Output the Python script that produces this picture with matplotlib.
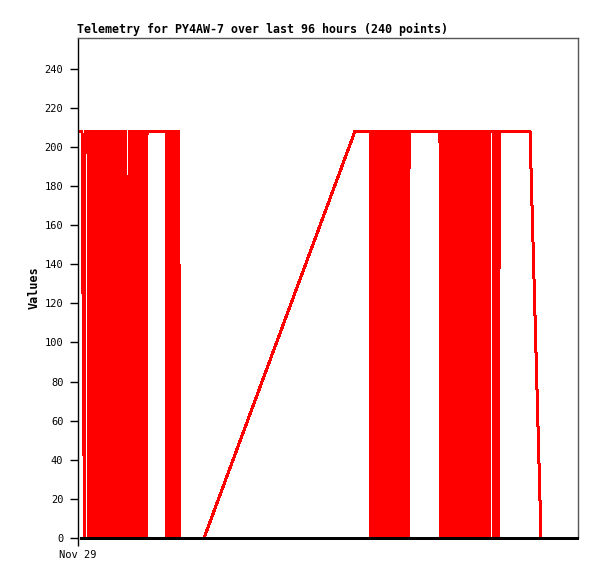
import matplotlib
matplotlib.use("Agg")
import matplotlib.pyplot as plt

# time in minutes since start of window (Nov 29 00:00), values of the telemetry channel
lead_t = [23, 46, 75, 81]
lead_v = [208, 208, 0, 208]

a1_t = [115, 124, 133, 142, 151, 160, 169, 178, 187, 196, 205, 214, 223, 232, 241, 250, 259,
        268, 277, 286, 295, 304, 313, 322, 331, 340, 349, 358, 367, 376, 385, 394, 403]
a1_v = [208, 0, 208, 0, 208, 0, 208, 0, 208, 0, 208, 0, 208, 0, 208, 0, 208,
        0, 208, 0, 208, 0, 208, 0, 208, 0, 208, 0, 208, 0, 208, 0, 208]

a2_t = [426, 435, 444, 453, 462, 471, 480, 489, 498, 507, 516, 525, 534, 543, 552, 561]
a2_v = [208, 0, 208, 0, 208, 0, 208, 0, 208, 0, 208, 0, 208, 0, 208, 0]

a3_t = [588, 597, 606, 615, 624, 633, 642, 651, 660, 669, 678, 687, 696, 705, 714, 723,
        732, 741, 750, 759, 768, 777, 786, 795]
a3_v = [0, 208, 0, 208, 0, 208, 0, 208, 0, 208, 0, 208, 0, 208, 0, 208,
        0, 208, 0, 208, 0, 208, 0, 208]

a4_t = [1014, 1023, 1032, 1041, 1050, 1059, 1068, 1077, 1086, 1095, 1104, 1113, 1122, 1131,
        1140, 1149, 1158]
a4_v = [208, 0, 208, 0, 208, 0, 208, 0, 208, 0, 208, 0, 208, 0, 208, 0, 208]

mid_t = [1175, 1452, 3191]
mid_v = [0, 0, 208]

b1_t = [3364, 3373, 3382, 3391, 3400, 3409, 3418, 3427, 3436, 3445, 3454, 3463, 3472, 3481,
        3490, 3499, 3508, 3517, 3526, 3535, 3544, 3553, 3562, 3571, 3580, 3589, 3598, 3607,
        3616, 3625, 3634, 3643, 3652, 3661, 3670, 3679, 3688, 3697, 3706, 3715, 3724, 3733,
        3742, 3751, 3760, 3769, 3778, 3787, 3796, 3805, 3814]
b1_v = [208, 0, 208, 0, 208, 0, 208, 0, 208, 0, 208, 0, 208, 0,
        208, 0, 208, 0, 208, 0, 208, 0, 208, 0, 208, 0, 208, 0,
        208, 0, 208, 0, 208, 0, 208, 0, 208, 0, 208, 0, 208, 0,
        208, 0, 208, 0, 208, 0, 208, 0, 208]

b2_t = [4170, 4179, 4188, 4197, 4206, 4215, 4224, 4233, 4242, 4251, 4260, 4269, 4278, 4287,
        4296, 4305, 4314, 4323, 4332, 4341, 4350, 4359, 4368, 4377, 4386, 4395, 4404, 4413,
        4422, 4431, 4440, 4449, 4458, 4467, 4476, 4485, 4494, 4503, 4512, 4521, 4530, 4539,
        4548, 4557, 4566, 4575, 4584, 4593, 4602, 4611, 4620, 4629, 4638, 4647, 4656, 4665,
        4674, 4683, 4692, 4701, 4710, 4719, 4728, 4737, 4746]
b2_v = [208, 0, 208, 0, 208, 0, 208, 0, 208, 0, 208, 0, 208, 0,
        208, 0, 208, 0, 208, 0, 208, 0, 208, 0, 208, 0, 208, 0,
        208, 0, 208, 0, 208, 0, 208, 0, 208, 0, 208, 0, 208, 0,
        208, 0, 208, 0, 208, 0, 208, 0, 208, 0, 208, 0, 208, 0,
        208, 0, 208, 0, 208, 0, 208, 0, 208]

b3_t = [4781, 4790, 4799, 4808, 4817, 4826, 4835, 4844, 4853]
b3_v = [208, 0, 208, 0, 208, 0, 208, 0, 208]

tail_t = [5207, 5334]
tail_v = [208, 0]

zero_t = [23, 5760]
zero_v = [0, 0]

x_ticks = [0]
x_ticklabels = ["Nov 29"]
y_ticks = [0, 20, 40, 60, 80, 100, 120, 140, 160, 180, 200, 220, 240]

title = "Telemetry for PY4AW-7 over last 96 hours (240 points)"

times = lead_t + a1_t + a2_t + a3_t + a4_t + mid_t + b1_t + b2_t + b3_t + tail_t
values = lead_v + a1_v + a2_v + a3_v + a4_v + mid_v + b1_v + b2_v + b3_v + tail_v

W, H = 597, 579
fig = plt.figure(figsize=(W / 100, H / 100), dpi=100)
fig.patch.set_facecolor("white")
ax = fig.add_axes([78 / W, 1 - 538 / H, 500 / W, 500 / H])

mono = "DejaVu Sans Mono"

ax.plot(times, values, color="#ff0000", lw=1.44, antialiased=False, solid_joinstyle="round",
        zorder=2, clip_on=False)
ax.plot(zero_t, zero_v, color="black", lw=1.8, antialiased=False, zorder=3,
        solid_capstyle="butt", clip_on=False)

ax.set_xlim(0, 5760)
ax.set_ylim(0, 255.6)

for s in ["top", "right"]:
    ax.spines[s].set_color("#555555")
    ax.spines[s].set_linewidth(1)
ax.spines["bottom"].set_visible(False)
ax.spines["left"].set_color("black")
ax.spines["left"].set_linewidth(1)

ax.set_yticks(y_ticks)
ax.set_yticklabels([str(v) for v in y_ticks], fontsize=7.5, family=mono)
ax.set_xticks(x_ticks)
ax.set_xticklabels(x_ticklabels, fontsize=7.5, family=mono)
ax.tick_params(axis="y", direction="out", length=5.5, width=1, pad=5, color="black")
ax.tick_params(axis="x", direction="out", length=5.5, width=1, pad=3, color="black")

ax.set_ylabel("Values", fontsize=8.5, family=mono, fontweight="bold", labelpad=3)

fig.text(77 / W, 1 - 33 / H, title, fontsize=8.4, family=mono, fontweight="bold",
         ha="left", va="baseline")

fig.savefig("out.png", dpi=100, facecolor="white")
